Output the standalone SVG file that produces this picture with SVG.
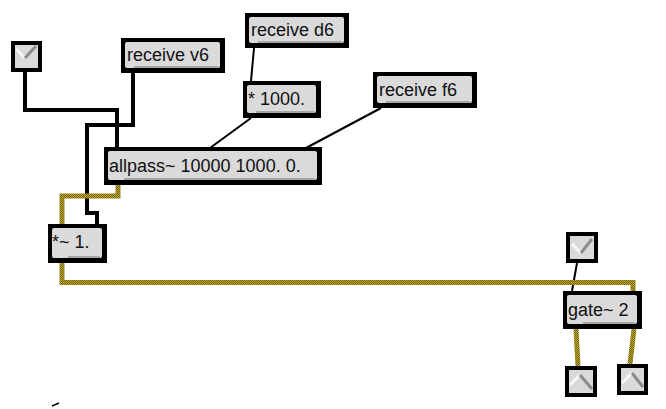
<svg xmlns="http://www.w3.org/2000/svg" width="666" height="409" viewBox="0 0 666 409">
<defs>
<pattern id="sigpat" width="2" height="2" patternUnits="userSpaceOnUse"><rect width="2" height="2" fill="#c2ab2c"/><rect width="1" height="1" fill="#6f600c"/><rect x="1" y="1" width="1" height="1" fill="#6f600c"/></pattern>
</defs>
<style>
.o{fill:#000}
.i{fill:#dadada}
.s{fill:#a6a6a6}
.t{font-family:"Liberation Sans",Arial,sans-serif;font-size:18px;fill:#111}
.ctl{stroke:#000;stroke-width:4;fill:none;stroke-linejoin:miter}
.thin{stroke:#000;stroke-width:2;fill:none}
.sig{stroke:url(#sigpat);stroke-width:5;fill:none;stroke-linejoin:miter}
.tw{stroke:#f6f6f6;stroke-width:3;fill:none}
.tg{stroke:#8c8c8c;stroke-width:3;fill:none}
</style>
<rect width="666" height="409" fill="#fff"/>
<g id="connectors">
<path class="ctl" d="M25 72 V110 H117 V148"/>
<path class="ctl" d="M133 73 V125 H87 V213 H97 V224"/>
<path class="thin" d="M254 48 L251 81"/>
<path class="thin" d="M251 118 L210 148"/>
<path class="thin" d="M381 108 L306 148"/>
<path class="thin" d="M577 263 L572 291"/>
<path class="sig" d="M118 185 V196 H62 V224"/>
<path class="sig" d="M62 262 V282.5 H633 V291"/>
<path class="sig" d="M576 329 L578 366"/>
<path class="sig" d="M634 329 L630 364"/>
</g>
<g id="toggle1">
<rect class="o" x="11" y="41" width="31" height="31"/>
<rect class="i" x="15" y="45" width="23" height="23"/>
<path class="tw" d="M16 49 L25 58"/>
<path class="tg" d="M25 58 L36 46"/>
</g>
<g id="receive-v6">
<rect class="o" x="121" y="38" width="104" height="35"/>
<rect class="i" x="125" y="42" width="95" height="26" rx="2"/>
<rect class="s" x="134" y="66" width="84" height="2"/>
<text class="t" x="127" y="61">receive v6</text>
</g>
<g id="receive-d6">
<rect class="o" x="245" y="13" width="104" height="35"/>
<rect class="i" x="249" y="17" width="95" height="26" rx="2"/>
<rect class="s" x="258" y="41" width="84" height="2"/>
<text class="t" x="251" y="36">receive d6</text>
</g>
<g id="mul-1000">
<rect class="o" x="243" y="81" width="78" height="37"/>
<rect class="i" x="247" y="85" width="69" height="28" rx="2"/>
<rect class="s" x="256" y="111" width="58" height="2"/>
<text class="t" x="248" y="105">* 1000.</text>
</g>
<g id="receive-f6">
<rect class="o" x="373" y="72" width="104" height="36"/>
<rect class="i" x="377" y="76" width="95" height="27" rx="2"/>
<rect class="s" x="386" y="101" width="84" height="2"/>
<text class="t" x="379" y="96">receive f6</text>
</g>
<g id="allpass">
<rect class="o" x="104" y="147" width="218" height="38"/>
<rect class="i" x="108" y="151" width="209" height="29" rx="2"/>
<rect class="s" x="124" y="178" width="191" height="2"/>
<text class="t" x="109" y="172">allpass~ 10000 1000. 0.</text>
</g>
<g id="mul-sig">
<rect class="o" x="48" y="224" width="59" height="39"/>
<rect class="i" x="52" y="228" width="50" height="30" rx="2"/>
<rect class="s" x="68" y="256" width="32" height="2"/>
<text class="t" x="52" y="248">*~ 1.</text>
</g>
<g id="toggle2">
<rect class="o" x="566" y="232" width="32" height="31"/>
<rect class="i" x="570" y="236" width="24" height="23"/>
<path class="tw" d="M572 244 L581 253"/>
<path class="tg" d="M581 253 L592 239"/>
</g>
<g id="gate">
<rect class="o" x="563" y="291" width="79" height="38"/>
<rect class="i" x="567" y="295" width="70" height="29" rx="2"/>
<rect class="s" x="583" y="322" width="52" height="2"/>
<text class="t" x="568" y="316">gate~ 2</text>
</g>
<g id="toggle-out1">
<rect class="o" x="565" y="366" width="32" height="31"/>
<rect class="i" x="569" y="370" width="24" height="23"/>
<path class="tw" d="M570 385 L580 375"/>
<path class="tg" d="M580 375 L592 389"/>
</g>
<g id="toggle-out2">
<rect class="o" x="617" y="364" width="31" height="31"/>
<rect class="i" x="621" y="368" width="23" height="23"/>
<path class="tw" d="M622 383 L632 373"/>
<path class="tg" d="M632 373 L643 387"/>
</g>
<path d="M52 406 L59 403" stroke="#000" stroke-width="1.5"/>
</svg>
